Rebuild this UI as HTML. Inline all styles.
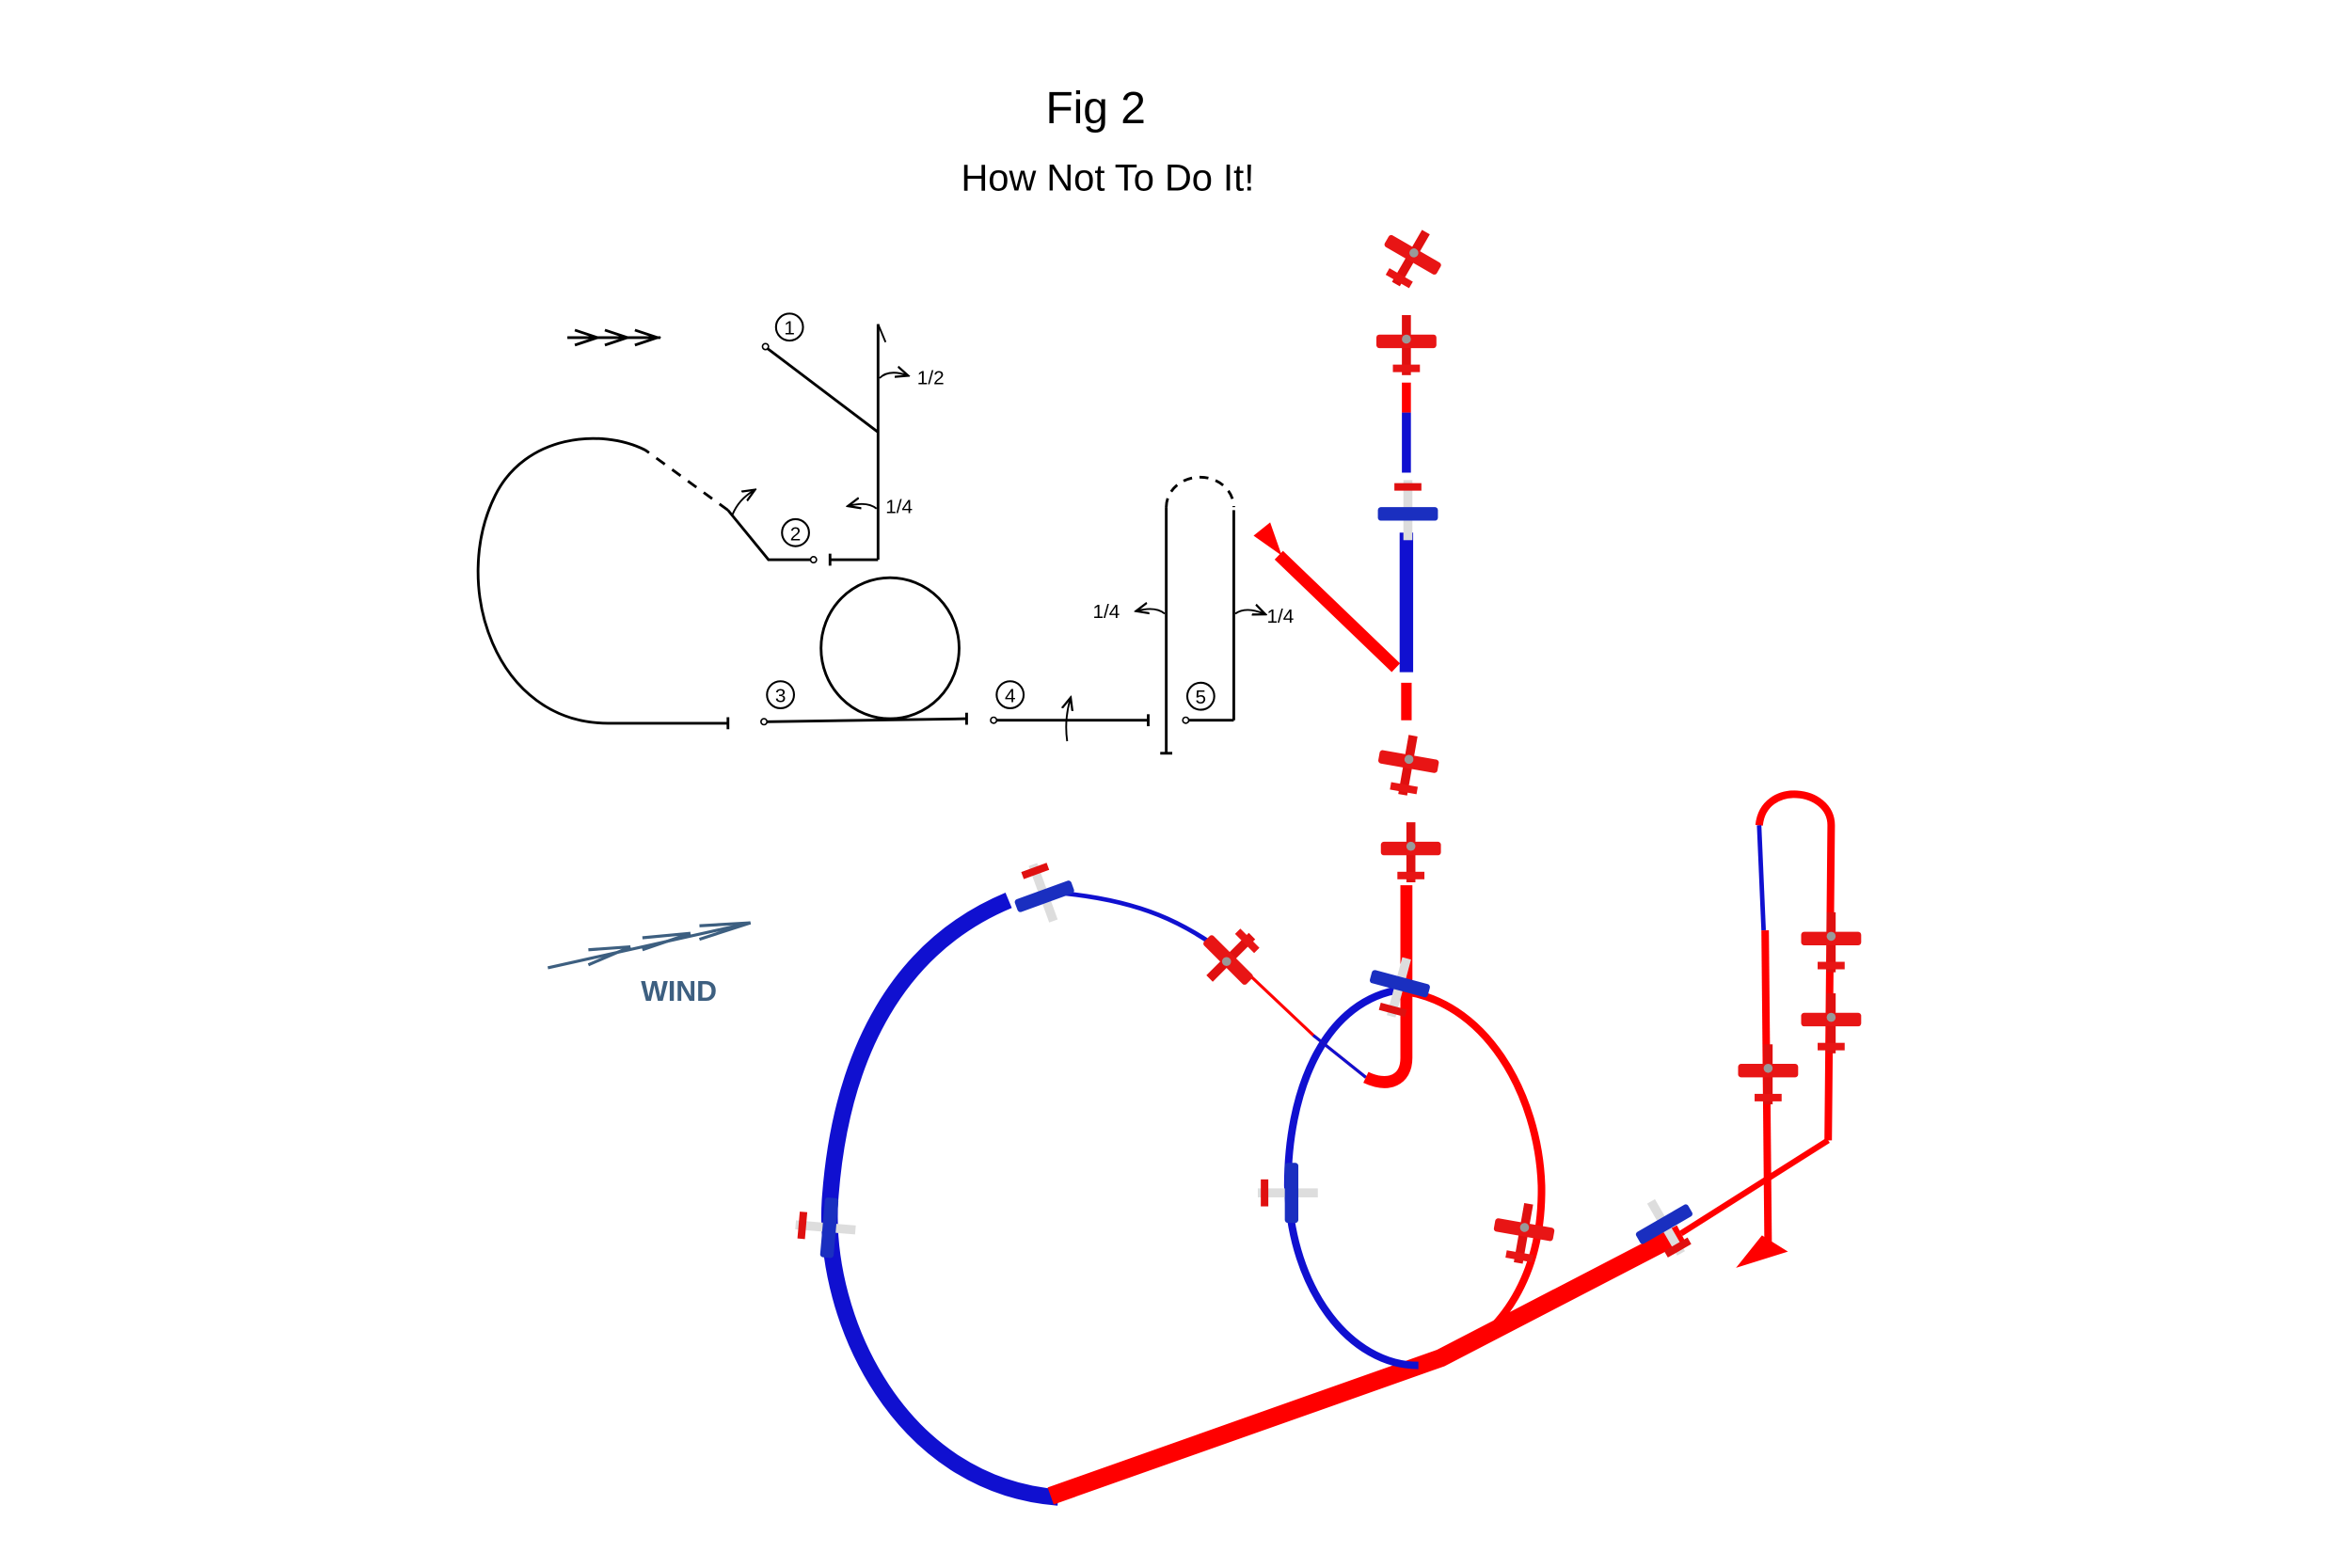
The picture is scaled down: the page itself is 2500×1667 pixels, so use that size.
<!DOCTYPE html>
<html><head><meta charset="utf-8"><style>
html,body{margin:0;padding:0;background:#fff;}
svg{display:block;}
text{font-family:"Liberation Sans",sans-serif;}
</style></head><body>
<svg width="2500" height="1667" viewBox="0 0 1567 1045" preserveAspectRatio="none" xmlns="http://www.w3.org/2000/svg">
<defs>
<g id="pr"><rect x="-3" y="-20" width="6" height="40" fill="#e01010"/><rect x="-20" y="-7" width="40" height="9" rx="2" fill="#e81515"/><rect x="-9" y="13" width="18" height="5" fill="#e81515"/><circle cx="0" cy="-4" r="3" fill="#999"/></g>
<g id="pb"><rect x="-3" y="-20" width="6" height="40" fill="#ddd"/><rect x="-20" y="-7" width="40" height="9" rx="2" fill="#1a2fc0"/><rect x="-9" y="13" width="18" height="5" fill="#e01010"/></g>
<marker id="ah" markerWidth="8" markerHeight="8" refX="6" refY="4" orient="auto"><path d="M0,1 L7,4 L0,7" fill="none" stroke="#000" stroke-width="1.2"/></marker>
</defs>
<text x="730" y="82" font-size="30" text-anchor="middle">Fig 2</text>
<text x="738" y="127" font-size="25" text-anchor="middle">How Not To Do It!</text>

<g fill="none" stroke="#000" stroke-width="1.8">
<line x1="378" y1="225" x2="440" y2="225"/>
<path d="M383,220 L398,225 L383,230 M403,220 L418,225 L403,230 M423,220 L438,225 L423,230"/>
<circle cx="526" cy="218" r="9" stroke-width="1.3"/>
<circle cx="510" cy="231" r="2" stroke-width="1"/>
<line x1="511" y1="232" x2="585" y2="288"/>
<line x1="585" y1="216" x2="585" y2="373"/>
<line x1="585" y1="216" x2="590" y2="228" stroke-width="1.2"/>
<path d="M586,252 Q592,246 604,250" stroke-width="1.2" marker-end="url(#ah)"/>
<path d="M584,339 Q578,334 566,337" stroke-width="1.2" marker-end="url(#ah)"/>
<line x1="553" y1="373" x2="585" y2="373"/>
<line x1="553" y1="369" x2="553" y2="377"/>
<circle cx="530" cy="355" r="9" stroke-width="1.3"/>
<circle cx="542" cy="373" r="2" stroke-width="1"/>
<path d="M540,373 L512,373 L485,340"/>
<path d="M485,340 L430,300" stroke-dasharray="7,6"/>
<path d="M430,300 C400,285 350,290 330,330 C300,390 330,482 405,482 L485,482"/>
<line x1="485" y1="478" x2="485" y2="486"/>
<path d="M488,343 Q492,333 502,327" stroke-width="1.2" marker-end="url(#ah)"/>
<circle cx="520" cy="463" r="9" stroke-width="1.3"/>
<circle cx="509" cy="481" r="2" stroke-width="1"/>
<line x1="511" y1="481" x2="644" y2="479"/>
<line x1="644" y1="475" x2="644" y2="483"/>
<ellipse cx="593" cy="432" rx="46" ry="47"/>
<circle cx="673" cy="463" r="9" stroke-width="1.3"/>
<circle cx="662" cy="480" r="2" stroke-width="1"/>
<line x1="664" y1="480" x2="765" y2="480"/>
<line x1="765" y1="476" x2="765" y2="484"/>
<path d="M711,494 Q709,480 713,466" stroke-width="1.2" marker-end="url(#ah)"/>
<line x1="777" y1="338" x2="777" y2="502"/>
<line x1="773" y1="502" x2="781" y2="502"/>
<path d="M777,338 A22.5,20 0 0 1 822,338" stroke-dasharray="6,5"/>
<line x1="822" y1="340" x2="822" y2="480"/>
<line x1="792" y1="480" x2="822" y2="480"/>
<circle cx="790" cy="480" r="2" stroke-width="1"/>
<circle cx="800" cy="464" r="9" stroke-width="1.3"/>
<path d="M776,409 Q770,404 758,407" stroke-width="1.2" marker-end="url(#ah)"/>
<path d="M823,409 Q830,404 842,409" stroke-width="1.2" marker-end="url(#ah)"/>
</g>
<g font-size="13">
<text x="526" y="223" text-anchor="middle">1</text>
<text x="530" y="360" text-anchor="middle">2</text>
<text x="520" y="468" text-anchor="middle">3</text>
<text x="673" y="468" text-anchor="middle">4</text>
<text x="800" y="469" text-anchor="middle">5</text>
<text x="611" y="256">1/2</text>
<text x="590" y="342">1/4</text>
<text x="728" y="412">1/4</text>
<text x="844" y="415">1/4</text>
</g>

<g stroke="#3d5f80" stroke-width="2" fill="none">
<line x1="365" y1="645" x2="500" y2="615"/>
<path d="M392,633 L420,631 M428,625 L460,622 M466,617 L500,615"/>
<path d="M392,643 L420,631 M428,633 L460,622 M466,626 L500,615"/>
</g>
<text x="427" y="667" font-size="19" font-weight="bold" fill="#3d5f80">WIND</text>

<g fill="none" stroke-linecap="butt">
<path d="M672,600 C600,630 560,700 553,800 C548,880 600,990 705,998" stroke="#1010d0" stroke-width="11"/>
<path d="M700,997 L960,905 L1120,822" stroke="#f00" stroke-width="12"/>
<path d="M1120,822 L1218,760" stroke="#f00" stroke-width="4"/>
<path d="M1218,760 L1220,550 C1220,525 1175,520 1172,550" stroke="#f00" stroke-width="5"/>
<path d="M1172,550 L1175,620" stroke="#1010d0" stroke-width="3"/>
<path d="M1176,620 L1178,830" stroke="#f00" stroke-width="5"/>
<path d="M1158,844 L1174,824 L1190,834 Z" fill="#f00" stroke="#f00"/>
<path d="M930,660 C880,670 858,730 858,790 C860,860 900,910 945,910" stroke="#1010d0" stroke-width="5"/>
<path d="M930,660 C990,665 1025,730 1027,790 C1028,850 1000,890 965,905" stroke="#f00" stroke-width="5"/>
<path d="M705,595 C760,600 790,615 820,638" stroke="#1010d0" stroke-width="3"/>
<path d="M820,638 L875,690 L910,718" stroke="#f00" stroke-width="2"/>
<path d="M875,690 L910,718" stroke="#1010d0" stroke-width="2"/>
<path d="M937,590 L937,705 C937,720 925,725 910,718" stroke="#f00" stroke-width="8"/>
<path d="M937,455 L937,480" stroke="#f00" stroke-width="7"/>
<path d="M937,255 L937,275" stroke="#f00" stroke-width="6"/>
<path d="M937,275 L937,315" stroke="#1010d0" stroke-width="6"/>
<path d="M937,355 L937,448" stroke="#1010d0" stroke-width="9"/>
<path d="M852,370 L930,445" stroke="#f00" stroke-width="8"/>
<path d="M853,369 L836,357 L846,349 Z" fill="#f00" stroke="#f00"/>
</g>

<use href="#pr" transform="translate(940,172) rotate(30)"/>
<use href="#pr" transform="translate(937,230)"/>
<use href="#pb" transform="translate(938,340) rotate(180)"/>
<use href="#pr" transform="translate(938,510) rotate(10)"/>
<use href="#pr" transform="translate(940,568)"/>
<use href="#pb" transform="translate(932,658) rotate(15)"/>
<use href="#pr" transform="translate(820,638) rotate(-135)"/>
<use href="#pb" transform="translate(695,595) rotate(160)"/>
<use href="#pb" transform="translate(550,818) rotate(95)"/>
<use href="#pb" transform="translate(858,795) rotate(90)"/>
<use href="#pr" transform="translate(1015,822) rotate(10)"/>
<use href="#pb" transform="translate(1110,818) rotate(-30)"/>
<use href="#pr" transform="translate(1220,628)"/>
<use href="#pr" transform="translate(1220,682)"/>
<use href="#pr" transform="translate(1178,716)"/>
</svg>
</body></html>
